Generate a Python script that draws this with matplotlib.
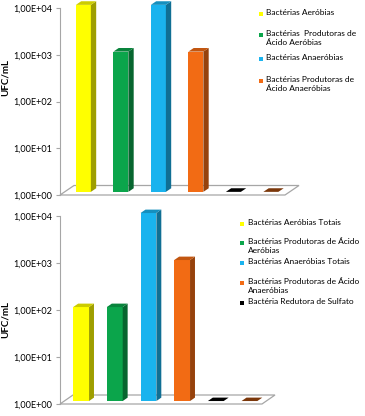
import matplotlib.pyplot as plt
from matplotlib.patches import Polygon
from matplotlib.transforms import ScaledTranslation
from matplotlib.ticker import FuncFormatter, FixedLocator
from matplotlib.colors import to_rgb

plt.rcParams['font.family'] = ['Lato', 'DejaVu Sans']

# data
bar_colors = ['#FFFF00', '#0BA54B', '#1AB3EE', '#F26B14', '#000000', '#9A450C']
top_values = [1e4, 1e3, 1e4, 1e3, 0, 0]
bottom_values = [1e2, 1e2, 1e4, 1e3, 0, 0]
top_labels = ['Bactérias Aeróbias',
              'Bactérias  Produtoras de\nÁcido Aeróbias',
              'Bactérias Anaeróbias',
              'Bactérias Produtoras de\nÁcido Anaeróbias']
bottom_labels = ['Bactérias Aeróbias Totais',
                 'Bactérias Produtoras de Ácido\nAeróbias',
                 'Bactérias Anaeróbias Totais',
                 'Bactérias Produtoras de Ácido\nAnaeróbias',
                 'Bactéria Redutora de Sulfato']
yticks = [1e0, 1e1, 1e2, 1e3, 1e4]

DPI = 100
fig = plt.figure(figsize=(3.65, 4.16), dpi=DPI)
W, H = 365, 416


def shade(c, f):
    r, g, b = to_rgb(c)
    return (r * f, g * f, b * f)


def to_axes(ax, x, y, dx=0, dy=0):
    px, py = ax.transData.transform((x, y))
    return ax.transAxes.inverted().transform((px + dx, py + dy))


def draw_panel(rect, values, width, floor_d, label_xy):
    ax = fig.add_axes(rect)
    n = len(values)
    ax.set_yscale('log')
    ax.set_ylim(1, 1e4)
    ax.set_xlim(-0.5, n - 0.5)
    for s in ['top', 'right', 'bottom']:
        ax.spines[s].set_visible(False)
    ax.spines['left'].set_color('#A6A6A6')
    ax.spines['left'].set_linewidth(0.8)
    ax.yaxis.set_major_locator(FixedLocator(yticks))
    ax.yaxis.set_minor_locator(FixedLocator([]))
    ax.yaxis.set_major_formatter(FuncFormatter(lambda v, p: f'{v:.2E}'.replace('.', ',')))
    ax.tick_params(axis='y', labelsize=6.6, length=3, color='#A6A6A6', pad=2.5)
    ax.set_xticks([])
    ax.set_ylabel('UFC/mL', fontsize=7, fontweight='bold')
    ax.yaxis.set_label_coords(*label_xy)

    # floor
    fdx, fdy = floor_d
    x0, x1 = -0.5, n - 0.5
    floor = [to_axes(ax, x0, 1), to_axes(ax, x1, 1),
             to_axes(ax, x1, 1, fdx, fdy), to_axes(ax, x0, 1, fdx, fdy)]
    ax.add_patch(Polygon(floor, closed=True, facecolor='none', edgecolor='#A6A6A6',
                         lw=0.9, transform=ax.transAxes, clip_on=False))

    # bars with a simple 3D look
    ox, oy = fdx * 0.33, fdy * 0.33
    ddx, ddy = fdx * 0.38, fdy * 0.38
    heights = [max(v, 1) - 1 for v in values]
    shift = ScaledTranslation(ox / DPI, oy / DPI, fig.dpi_scale_trans)
    bars = ax.bar(range(n), heights, bottom=1, width=width, color=bar_colors, linewidth=0)
    for i, b in enumerate(bars):
        b.set_transform(ax.transData + shift)
        b.set_clip_on(False)
        xl, xr = i - width / 2, i + width / 2
        top = max(values[i], 1)
        c = bar_colors[i]
        if top > 1:
            side = [to_axes(ax, xr, 1, ox, oy), to_axes(ax, xr, top, ox, oy),
                    to_axes(ax, xr, top, ox + ddx, oy + ddy), to_axes(ax, xr, 1, ox + ddx, oy + ddy)]
            ax.add_patch(Polygon(side, closed=True, facecolor=shade(c, 0.62), lw=0,
                                 transform=ax.transAxes, clip_on=False))
        cap = [to_axes(ax, xl, top, ox, oy), to_axes(ax, xr, top, ox, oy),
               to_axes(ax, xr, top, ox + ddx, oy + ddy), to_axes(ax, xl, top, ox + ddx, oy + ddy)]
        ax.add_patch(Polygon(cap, closed=True, facecolor=shade(c, 0.8), lw=0,
                             transform=ax.transAxes, clip_on=False))
    return ax


def draw_legend(labels, mx, tx, ys):
    for lab, c, y in zip(labels, bar_colors, ys):
        fig.patches.append(plt.Rectangle(((mx - 2) / W, 1 - (y + 2) / H), 4 / W, 4 / H,
                                         facecolor=c, transform=fig.transFigure, figure=fig))
        fig.text(tx / W, 1 - (y - 5) / H, lab, fontsize=6, va='top', ha='left',
                 linespacing=1.3)


draw_panel([60 / W, 1 - 195 / H, 225 / W, 187 / H], top_values, 0.40, (14, 9.5), (-0.222, 0.626))
draw_panel([60 / W, 1 - 404 / H, 202 / W, 188 / H], bottom_values, 0.47, (13, 9), (-0.2475, 0.452))

draw_legend(top_labels, 261, 266, [14, 35, 59, 81])
draw_legend(bottom_labels, 242, 248, [224, 243, 263, 283, 303])

fig.savefig('out.png', dpi=DPI)
